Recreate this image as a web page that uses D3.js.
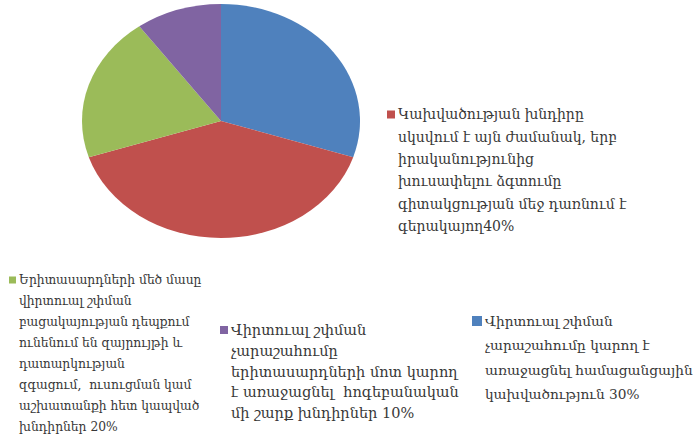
<!DOCTYPE html>
<html>
<head>
<meta charset="utf-8">
<script src="https://cdn.jsdelivr.net/npm/d3@7"></script>
<style>
  body { margin:0; background:#fff; }
  text { font-family: "DejaVu Serif", serif; fill:#383838; }
</style>
</head>
<body>
<div id="vis"></div>
<script>
(function run(){

  var values = [30, 40, 20, 10];
  var colors = ["#4F81BD", "#C0504D", "#9BBB59", "#8064A2"];
  var labels = [
    ["Վիրտուալ շփման", "չարաշահումը կարող է", "առաջացնել համացանցային", "կախվածություն 30%"],
    ["Կախվածության խնդիրը", "սկսվում է այն ժամանակ, երբ", "իրականությունից", "խուսափելու ձգտումը", "գիտակցության մեջ դառնում է", "գերակայող40%"],
    ["Երիտասարդների մեծ մասը", "վիրտուալ շփման", "բացակայության դեպքում", "ունենում են զայրույթի և", "դատարկության", "զգացում,  ուսուցման կամ", "աշխատանքի հետ կապված", "խնդիրներ 20%"],
    ["Վիրտուալ շփման", "չարաշահումը", "երիտասարդների մոտ կարող", "է առաջացնել  հոգեբանական", "մի շարք խնդիրներ 10%"]
  ];

  var width = 698, height = 441;
  var rx = 139, ry = 117;

  var svg = d3.select("#vis")
    .append("svg")
      .attr("width", width)
      .attr("height", height);

  svg.append("rect").attr("width", width).attr("height", height).attr("fill", "#fff");

  var pie = d3.pie().sort(null);
  var arc = d3.arc().innerRadius(0).outerRadius(rx);

  var g = svg.append("g")
    .attr("transform", "translate(221,121) scale(1," + (ry / rx) + ")");

  g.selectAll("path")
    .data(pie(values))
    .enter()
    .append("path")
      .attr("d", arc)
      .attr("fill", function(d, i) { return colors[i]; });

  // legend blocks: x of text, first line center, line step, font size, marker size
  var blocks = [
    {x:485, y:321, step:24.5, size:13.7, m:10},
    {x:398, y:114.5, step:22.3, size:14, m:8},
    {x:19,  y:280, step:21, size:12.3, m:7},
    {x:231, y:330, step:20.8, size:14.5, m:8}
  ];

  blocks.forEach(function(b, i){
    var lg = svg.append("g").attr("class", "legend");
    lg.append("rect")
      .attr("x", b.x - b.m - 3)
      .attr("y", b.y - b.m / 2)
      .attr("width", b.m)
      .attr("height", b.m)
      .attr("fill", colors[i]);
    lg.selectAll("text")
      .data(labels[i])
      .enter()
      .append("text")
        .attr("x", b.x)
        .attr("y", function(d, j){ return b.y + j * b.step; })
        .attr("dy", "0.35em")
        .style("font-size", b.size + "px")
        .style("white-space", "pre")
        .text(function(d){ return d; });
  });

})();
</script>
</body>
</html>
